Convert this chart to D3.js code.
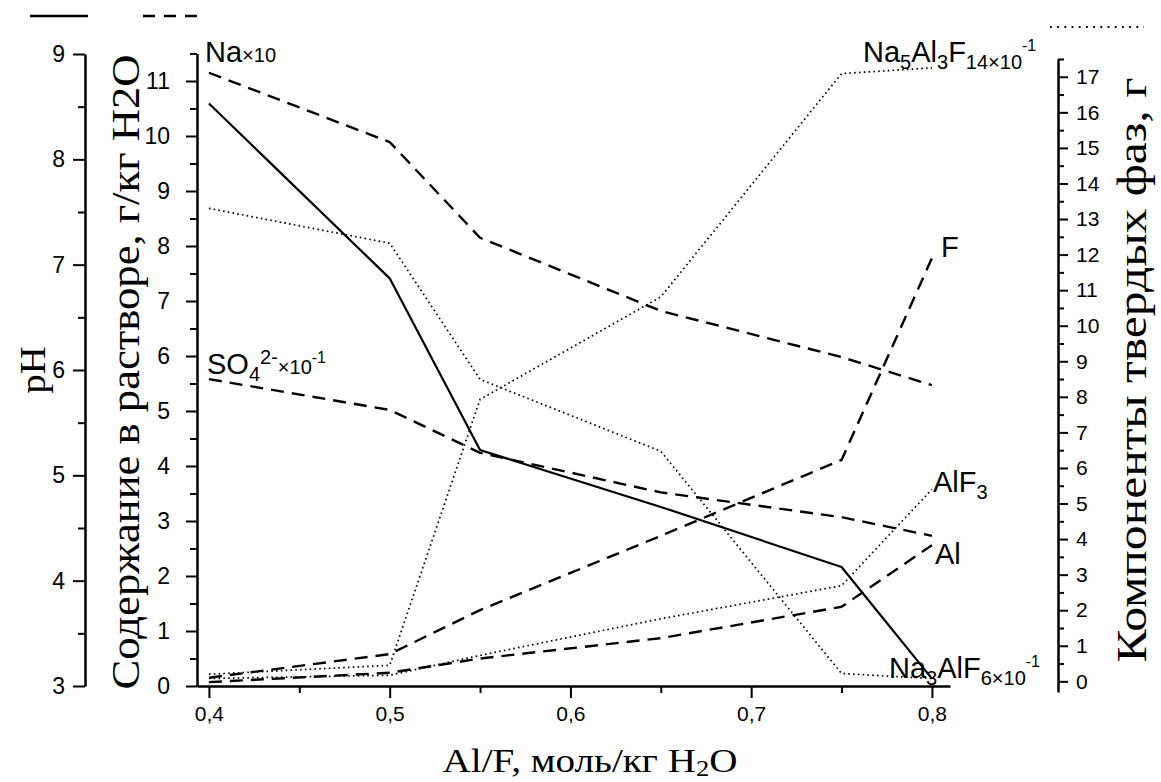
<!DOCTYPE html>
<html><head><meta charset="utf-8">
<script src="https://cdn.jsdelivr.net/npm/d3@7"></script>
<style>body{margin:0;background:#fff} svg{display:block}</style>
</head><body>
<svg id="c" width="1161" height="782"></svg>
<script>
// ---- data ----
const xValues = [0.4, 0.5, 0.55, 0.65, 0.75, 0.8];
const phValues = [8.53, 6.87, 5.24, 4.70, 4.13, 3.07];          // solid, pH axis
const naValues = [11.15, 9.89, 8.15, 6.82, 5.98, 5.47];         // dashed, Na x10
const so4Values = [5.58, 5.02, 4.24, 3.52, 3.07, 2.73];         // dashed, SO4 x10^-1
const fValues = [0.15, 0.58, 1.38, 2.73, 4.11, 7.78];           // dashed, F
const alValues = [0.07, 0.24, 0.50, 0.87, 1.44, 2.56];          // dashed, Al
const na5Values = [0.20, 0.45, 7.93, 10.81, 17.09, 17.25];      // dotted, Na5Al3F14 x10^-1
const na3Values = [13.3, 12.32, 8.49, 6.47, 0.22, 0.08];        // dotted, Na3AlF6 x10^-1
const alf3Values = [0.08, 0.17, 0.73, 1.76, 2.69, 5.40];        // dotted, AlF3

const xTicks = [0.4, 0.5, 0.6, 0.7, 0.8];
const xMinorTicks = [0.45, 0.55, 0.65, 0.75];
const phTicks = [3, 4, 5, 6, 7, 8, 9];
const phMinorTicks = [3.5, 4.5, 5.5, 6.5, 7.5, 8.5];
const midTicks = [0,1,2,3,4,5,6,7,8,9,10,11];
const midMinorTicks = [0.5,1.5,2.5,3.5,4.5,5.5,6.5,7.5,8.5,9.5,10.5,11.5];
const rightTicks = [0,1,2,3,4,5,6,7,8,9,10,11,12,13,14,15,16,17];
const rightMinorTicks = [0.5,1.5,2.5,3.5,4.5,5.5,6.5,7.5,8.5,9.5,10.5,11.5,12.5,13.5,14.5,15.5,16.5,17.5];

const titlePH = "pH";
const titleMid = "Содержание в растворе, г/кг H2O";
const titleRight = "Компоненты твердых фаз, г";

// ---- drawing ----
const SANS = "'Liberation Sans', Arial, sans-serif";
const SERIF = "'Liberation Serif', 'Times New Roman', serif";
const svg = d3.select('#c');

const x = d3.scaleLinear().domain([0.3934, 0.81]).range([197, 950]);
const yPH = d3.scaleLinear().domain([3, 9]).range([686, 54]);
const yMid = d3.scaleLinear().domain([0, 11.5]).range([686, 53.5]);
const yR = d3.scaleLinear().domain([-0.3, 17.5]).range([692, 59]);

function style(g, fs) {
  g.attr('font-family', SANS).attr('font-size', fs);
  g.select('.domain').attr('stroke', '#000').attr('stroke-width', 2.5);
  g.selectAll('.tick line').attr('stroke', '#000').attr('stroke-width', 2);
  g.selectAll('.tick text').attr('fill', '#000');
}
const fmt = d => String(d).replace('.', ',');
const intFmt = d3.format('d');

// x axis
const gx = svg.append('g').attr('transform', `translate(0,${yMid(0)})`);
gx.call(d3.axisBottom(x).tickValues(xTicks).tickSize(12).tickSizeOuter(0).tickPadding(8).tickFormat(fmt));
style(gx, 21);
const gxm = svg.append('g').attr('transform', `translate(0,${yMid(0)})`);
gxm.call(d3.axisBottom(x).tickValues(xMinorTicks).tickSize(7).tickSizeOuter(0).tickFormat(''));
style(gxm, 21); gxm.select('.domain').remove();

// pH axis
const gp = svg.append('g').attr('transform', 'translate(85,0)');
gp.call(d3.axisLeft(yPH).tickValues(phTicks).tickSize(12).tickSizeOuter(0).tickPadding(8).tickFormat(intFmt));
style(gp, 23);
const gpm = svg.append('g').attr('transform', 'translate(85,0)');
gpm.call(d3.axisLeft(yPH).tickValues(phMinorTicks).tickSize(7).tickSizeOuter(0).tickFormat(''));
style(gpm, 23); gpm.select('.domain').remove();

// middle axis
const gm = svg.append('g').attr('transform', `translate(${x.range()[0]},0)`);
gm.call(d3.axisLeft(yMid).tickValues(midTicks).tickSize(11).tickSizeOuter(0).tickPadding(16).tickFormat(intFmt));
style(gm, 23);
const gmm = svg.append('g').attr('transform', `translate(${x.range()[0]},0)`);
gmm.call(d3.axisLeft(yMid).tickValues(midMinorTicks).tickSize(7).tickSizeOuter(0).tickFormat(''));
style(gmm, 23); gmm.select('.domain').remove();

// right axis
const gr = svg.append('g').attr('transform', 'translate(1058,0)');
gr.call(d3.axisRight(yR).tickValues(rightTicks).tickSize(10).tickSizeOuter(0).tickPadding(8).tickFormat(intFmt));
style(gr, 21);
const grm = svg.append('g').attr('transform', 'translate(1058,0)');
grm.call(d3.axisRight(yR).tickValues(rightMinorTicks).tickSize(6).tickSizeOuter(0).tickFormat(''));
style(grm, 21); grm.select('.domain').remove();

// series
function drawLine(values, yScale, dash, width) {
  const line = d3.line().x((d, i) => x(xValues[i])).y(d => yScale(d));
  svg.append('path').datum(values).attr('d', line)
    .attr('fill', 'none').attr('stroke', '#000').attr('stroke-width', width)
    .attr('stroke-dasharray', dash).attr('stroke-linejoin', 'round');
}
const DASH = '13,8', DOT = '1.6,3.2';
drawLine(naValues, yMid, DASH, 2.4);
drawLine(so4Values, yMid, DASH, 2.4);
drawLine(fValues, yMid, DASH, 2.4);
drawLine(alValues, yMid, DASH, 2.4);
drawLine(na5Values, yR, DOT, 1.7);
drawLine(na3Values, yR, DOT, 1.7);
drawLine(alf3Values, yR, DOT, 1.7);
drawLine(phValues, yPH, null, 2.2);

// legend line samples at top
svg.append('line').attr('x1', 30).attr('x2', 88).attr('y1', 16).attr('y2', 16).attr('stroke', '#000').attr('stroke-width', 2.4);
svg.append('line').attr('x1', 143).attr('x2', 204).attr('y1', 16).attr('y2', 16).attr('stroke', '#000').attr('stroke-width', 2.4).attr('stroke-dasharray', '12,9');
svg.append('line').attr('x1', 1050).attr('x2', 1144).attr('y1', 27).attr('y2', 27).attr('stroke', '#000').attr('stroke-width', 1.8).attr('stroke-dasharray', '1.8,5.4');

// titles: fit to a target length by horizontal stretch
function title(cx, cy, rot, fs, target, build) {
  const g = svg.append('g');
  const t = g.append('text').attr('text-anchor', 'middle').attr('font-family', SERIF).attr('font-size', fs);
  build(t);
  const w = t.node().getBBox().width;
  const sx = target ? target / w : 1;
  g.attr('transform', `translate(${cx},${cy}) rotate(${rot}) scale(${sx},1)`);
}
title(45, 370, -90, 36, 47, t => t.text(titlePH));
title(139, 372, -90, 40, 635, t => t.text(titleMid));
title(1146, 370, -90, 42, 585, t => t.text(titleRight));
title(590, 772, 0, 34, 295, t => {
  t.append('tspan').text('Al/F, моль/кг H');
  t.append('tspan').attr('font-size', 23).attr('dy', 4).text('2');
  t.append('tspan').attr('dy', -4).text('O');
});

// series labels: parts [text, kind] kind: n normal, s sub, p sup, m small
function label(x0, y0, parts) {
  const t = svg.append('text').attr('x', x0).attr('y', y0).attr('font-family', SANS).attr('font-size', 29);
  let cur = 0;
  parts.forEach(([txt, k]) => {
    let target = 0, fs = 29;
    if (k === 's') { target = 7; fs = 20; }
    if (k === 'p') { target = -11; fs = 16; }
    if (k === 'P') { target = -10; fs = 20; }
    if (k === 'm') { target = 0; fs = 20; }
    t.append('tspan').attr('font-size', fs).attr('dy', target - cur).text(txt);
    cur = target;
  });
}
label(205, 62, [['Na', 'n'], ['×10', 'm']]);
label(207, 374, [['SO', 'n'], ['4', 's'], ['2-', 'P'], ['×10', 'm'], ['-1', 'p']]);
label(863, 62, [['Na', 'n'], ['5', 's'], ['Al', 'n'], ['3', 's'], ['F', 'n'], ['14×10', 's'], ['-1', 'p']]);
label(941, 257, [['F', 'n']]);
label(933, 492, [['AlF', 'n'], ['3', 's']]);
label(935, 564, [['Al', 'n']]);
label(889, 678, [['Na', 'n'], ['3', 's'], ['AlF', 'n'], ['6×10', 's'], ['-1', 'p']]);
</script>
</body></html>
